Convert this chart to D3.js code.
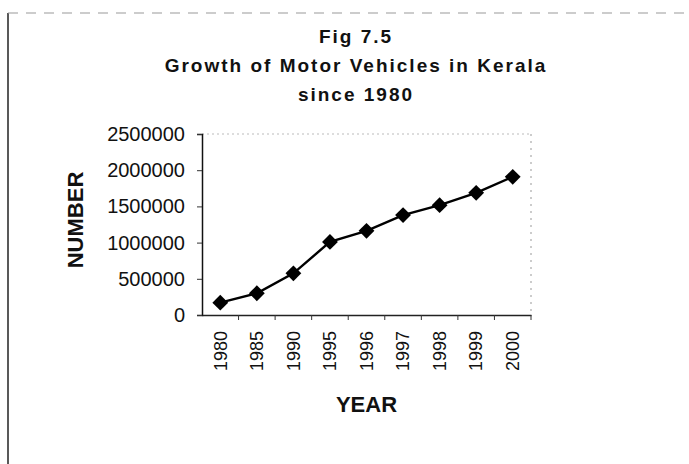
<!DOCTYPE html>
<html>
<head>
<meta charset="utf-8">
<script src="https://cdn.jsdelivr.net/npm/d3@7"></script>
<style>
  body { margin: 0; background: #fff; }
  svg { display: block; }
  .tick-y text { font-family: "Liberation Sans", Arial, sans-serif; font-size: 20px; fill: #111; }
  .tick-x text { font-family: "Liberation Sans", Arial, sans-serif; font-size: 18px; fill: #111; }
  .title { font-family: "Liberation Sans", Arial, sans-serif; font-weight: bold; font-size: 19px; letter-spacing: 2px; fill: #111; }
  .axis-title { font-family: "Liberation Sans", Arial, sans-serif; font-weight: bold; font-size: 22px; fill: #111; }
</style>
</head>
<body>
<svg class="chart"></svg>
<script>
//chart data
var years = ["1980", "1985", "1990", "1995", "1996", "1997", "1998", "1999", "2000"];
var vehicles = [170000, 300000, 575000, 1010000, 1163000, 1380000, 1517000, 1687000, 1908000];
var yTicks = [0, 500000, 1000000, 1500000, 2000000, 2500000];
var titleLines = ["Fig 7.5", "Growth of Motor Vehicles in Kerala", "since 1980"];

var width = 689, height = 464;
var margin = {top: 134, right: 158, bottom: 149, left: 202},
    plotW = width - margin.left - margin.right,
    plotH = height - margin.top - margin.bottom;

var chart = d3.select('.chart')
    .attr("width", width)
    .attr("height", height);

//outer frame of the scanned page
chart.append("line")
    .attr("x1", 8).attr("y1", 13).attr("x2", 8).attr("y2", height)
    .attr("stroke", "#222").attr("stroke-width", 1.5);
chart.append("line")
    .attr("x1", 8).attr("y1", 13).attr("x2", width).attr("y2", 13)
    .attr("stroke", "#999").attr("stroke-width", 1)
    .attr("stroke-dasharray", "10,8");

//titles
chart.selectAll("text.title")
    .data(titleLines)
  .enter().append("text")
    .attr("class", "title")
    .attr("x", 356)
    .attr("y", function(d, i){ return 43 + i * 29; })
    .attr("text-anchor", "middle")
    .text(function(d){ return d; });

var g = chart.append("g").attr("transform", "translate(" + margin.left + "," + margin.top + ")");

var xScale = d3.scaleBand()
    .domain(years)
    .range([0, plotW]);

var yScale = d3.scaleLinear()
    .domain([0, 2500000])
    .range([plotH, 0]);

//faint plot border at top and right
g.append("line")
    .attr("x1", 0).attr("y1", 0).attr("x2", plotW).attr("y2", 0)
    .attr("stroke", "#bbb").attr("stroke-dasharray", "2,3");
g.append("line")
    .attr("x1", plotW).attr("y1", 0).attr("x2", plotW).attr("y2", plotH)
    .attr("stroke", "#999").attr("stroke-dasharray", "2,5");

//y axis
var yAxis = g.append("g")
    .attr("class", "tick-y")
    .call(d3.axisLeft(yScale).tickValues(yTicks).tickSize(5).tickPadding(12).tickFormat(d3.format("d")));
yAxis.select(".domain").attr("stroke", "#111").attr("stroke-width", 1.5);
yAxis.selectAll(".tick line").attr("stroke", "#333");

//x axis, ticks at category boundaries
var xAxis = g.append("g")
    .attr("class", "tick-x")
    .attr("transform", "translate(0," + plotH + ")")
    .call(d3.axisBottom(xScale).tickSize(0).tickSizeOuter(0).tickPadding(0));
xAxis.select(".domain").attr("stroke", "#222").attr("stroke-width", 1.5);
xAxis.selectAll(".tick text")
    .attr("transform", "rotate(-90)")
    .attr("text-anchor", "end")
    .attr("x", -16)
    .attr("y", 0)
    .attr("dy", "0.35em");

g.append("g")
    .selectAll("line")
    .data(years)
  .enter().append("line")
    .attr("x1", function(d){ return xScale(d) + xScale.bandwidth(); })
    .attr("x2", function(d){ return xScale(d) + xScale.bandwidth(); })
    .attr("y1", plotH)
    .attr("y2", plotH + 5)
    .attr("stroke", "#333");

//axis titles
chart.append("text")
    .attr("class", "axis-title")
    .attr("transform", "translate(83,220) rotate(-90)")
    .attr("text-anchor", "middle")
    .text("NUMBER");

chart.append("text")
    .attr("class", "axis-title")
    .attr("x", margin.left + plotW / 2)
    .attr("y", 412)
    .attr("text-anchor", "middle")
    .text("YEAR");

//line and markers
var data = years.map(function(y, i){ return {year: y, value: vehicles[i]}; });

var line = d3.line()
    .x(function(d){ return xScale(d.year) + xScale.bandwidth() / 2; })
    .y(function(d){ return yScale(d.value); });

g.append("path")
    .datum(data)
    .attr("fill", "none")
    .attr("stroke", "#000")
    .attr("stroke-width", 2.4)
    .attr("d", line);

var diamond = d3.symbol().type(d3.symbolSquare).size(125);
g.selectAll(".marker")
    .data(data)
  .enter().append("path")
    .attr("class", "marker")
    .attr("d", diamond)
    .attr("fill", "#000")
    .attr("transform", function(d){
      return "translate(" + (xScale(d.year) + xScale.bandwidth() / 2) + "," + yScale(d.value) + ") rotate(45)";
    });
</script>
</body>
</html>
